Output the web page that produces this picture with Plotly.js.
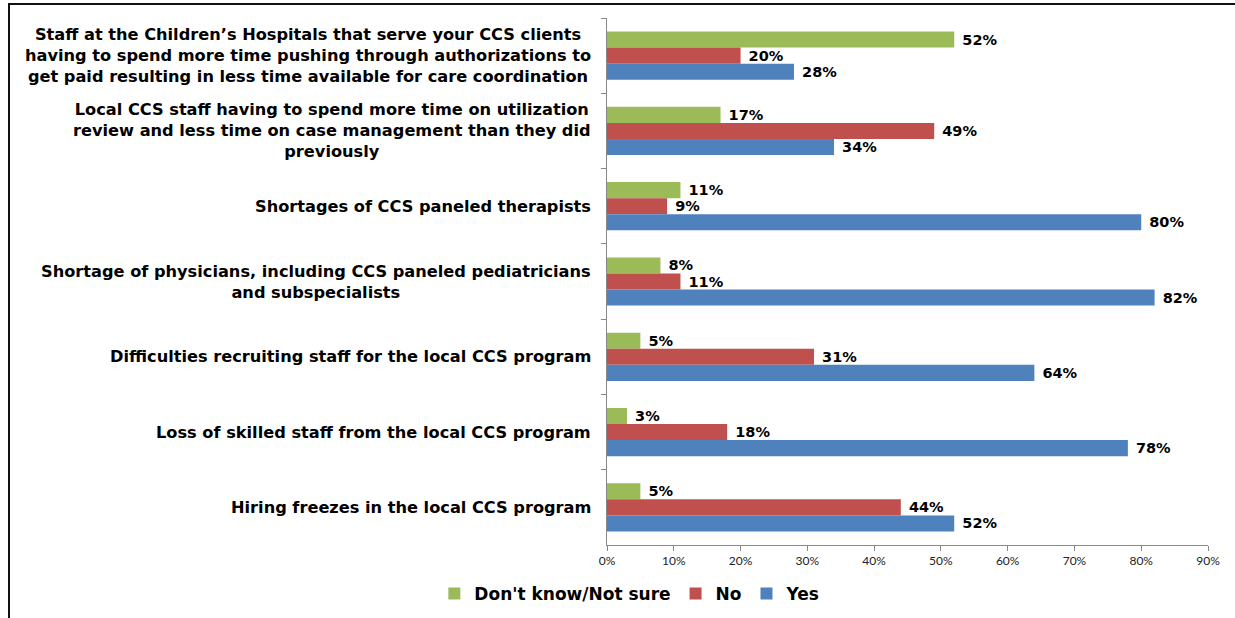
<!DOCTYPE html>
<html>
<head>
<meta charset="utf-8">
<script src="https://cdn.plot.ly/plotly-3.0.1.min.js"></script>
<style>
  html, body { margin: 0; padding: 0; background: #fff; }
  #wrap { position: relative; width: 1235px; height: 618px; }
  #chart { width: 1235px; height: 618px; }
  #ftop { position: absolute; left: 8px; top: 3px; width: 1227px; height: 0; border-top: 2px solid #111; pointer-events: none; }
  #fleft { position: absolute; left: 8px; top: 3px; width: 0; height: 615px; border-left: 2px solid #111; pointer-events: none; }
</style>
</head>
<body>
<div id="wrap">
  <div id="chart"></div>
  <div id="ftop"></div>
  <div id="fleft"></div>
</div>
<script>
const categories = [
  "Staff at the Children\u2019s Hospitals that serve your CCS clients<br>having to spend more time pushing through authorizations to<br>get paid resulting in less time available for care coordination",
  "Local CCS staff having to spend more time on utilization<br>review and less time on case management than they did<br>previously",
  "Shortages of CCS paneled therapists",
  "Shortage of physicians, including CCS paneled pediatricians<br>and subspecialists",
  "Difficulties recruiting staff for the local CCS program",
  "Loss of skilled staff from the local CCS program",
  "Hiring freezes in the local CCS program"
];
const seriesNames = ["Don't know/Not sure", "No", "Yes"];
const dontKnow = [52, 17, 11, 8, 5, 3, 5];
const no = [20, 49, 9, 11, 31, 18, 44];
const yes = [28, 34, 80, 82, 64, 78, 52];
const tickVals = [0, 10, 20, 30, 40, 50, 60, 70, 80, 90];
const tickText = ["0%", "10%", "20%", "30%", "40%", "50%", "60%", "70%", "80%", "90%"];

const colors = ["#9BBB59", "#C0504D", "#4F81BD"];
const seriesData = [dontKnow, no, yes];
const catIds = categories.map((c, i) => "c" + i);

const traces = seriesData.map((vals, i) => ({
  type: "bar",
  orientation: "h",
  name: seriesNames[i],
  x: vals,
  y: catIds,
  marker: { color: colors[i] },
  text: vals.map(v => v + "%"),
  texttemplate: " %{text}",
  textposition: "outside",
  constraintext: "none",
  cliponaxis: false,
  textfont: { family: "'DejaVu Sans', sans-serif", size: 14.5, color: "#000", weight: "bold" },
  hoverinfo: "skip"
}));

const annotations = categories.map((c, i) => ({
  x: 0, xref: "paper",
  y: catIds[i], yref: "y",
  text: c,
  showarrow: false,
  xanchor: "right",
  yanchor: "middle",
  align: "center",
  xshift: -14,
  font: { family: "'DejaVu Sans', sans-serif", size: 16.2, color: "#000", weight: "bold" }
}));

const layout = {
  width: 1235, height: 618,
  margin: { l: 607, r: 27, t: 18, b: 73, pad: 0 },
  paper_bgcolor: "#fff",
  plot_bgcolor: "#fff",
  barmode: "group",
  bargap: 0.36,
  bargroupgap: 0,
  showlegend: true,
  legend: {
    orientation: "h",
    xref: "container", yref: "container",
    x: 0.51, xanchor: "center",
    y: 0.039, yanchor: "middle",
    font: { family: "'DejaVu Sans', sans-serif", size: 17, color: "#000", weight: "bold" },
    itemwidth: 30,
    traceorder: "normal"
  },
  xaxis: {
    range: [0, 90],
    tickvals: tickVals,
    ticktext: tickText,
    showgrid: false,
    zeroline: false,
    showline: true,
    linecolor: "#888",
    linewidth: 1,
    ticks: "outside",
    ticklen: 5,
    tickcolor: "#888",
    tickfont: { family: "Lato, 'Open Sans', sans-serif", size: 12, color: "#222" },
    fixedrange: true
  },
  yaxis: {
    type: "category",
    categoryorder: "array",
    categoryarray: catIds,
    autorange: "reversed",
    showticklabels: false,
    showgrid: false,
    zeroline: false,
    showline: true,
    linecolor: "#888",
    linewidth: 1,
    ticks: "outside",
    tickson: "boundaries",
    ticklen: 5,
    tickcolor: "#888",
    fixedrange: true
  },
  annotations: annotations
};

Plotly.newPlot("chart", traces, layout, { displayModeBar: false, staticPlot: true });
</script>
</body>
</html>
